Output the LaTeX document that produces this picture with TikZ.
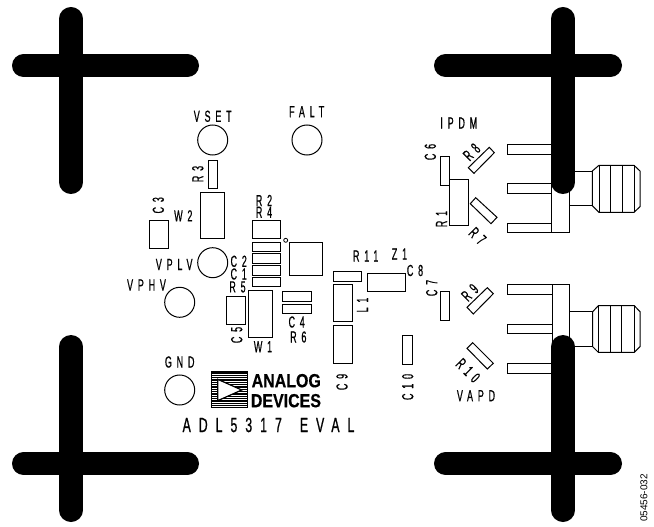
\documentclass[tikz,border=0pt]{standalone}
\usepackage{fontspec}
\newfontfamily\cadfont[FakeStretch=0.56,LetterSpace=30,FakeBold=0.6]{Liberation Sans}
\newfontfamily\cadwide[FakeStretch=0.6,LetterSpace=39,FakeBold=0.8]{Liberation Sans}
\newfontfamily\logofont[FakeStretch=0.84,FakeBold=0.5]{Liberation Sans Bold}
\setsansfont{Liberation Sans}
\tikzset{
  lab/.style={font=\cadfont\fontsize{16}{16}\selectfont,inner sep=0pt,text=black},
  part/.style={draw=black,line width=1pt,fill=white},
  pad/.style={circle,draw=black,line width=1pt,fill=white,minimum size=30pt,inner sep=0pt},
  bar/.style={line width=23.4pt,line cap=round,draw=black},
  wire/.style={draw=black,line width=1pt},
  logotxt/.style={font=\logofont\fontsize{19}{19}\selectfont,inner sep=0pt,anchor=west}
}
\begin{document}
\begin{tikzpicture}[x=1pt,y=-1pt]
\useasboundingbox (0,0) rectangle (654,527);
% pads
\node[pad] (vset) at (212.7,140) {};
\node[pad] (falt) at (307,140) {};
\node[pad] (vplv) at (212.7,262.7) {};
\node[pad] (vphv) at (179.7,302.3) {};
\node[pad] (gnd) at (179.7,390) {};
\node[draw=black,circle,line width=.8pt,minimum size=4pt,inner sep=0pt] (pin1) at (285.7,240.3) {};
% parts
\draw[part] (208.3,160) rectangle (217.7,188.7);
\draw[part] (200.3,192) rectangle (224.3,238.7);
\draw[part] (149.3,220) rectangle (168.3,248.3);
\draw[part] (252.7,220) rectangle (280.7,238.7);
\draw[part] (252.7,242.3) rectangle (280.7,251.7);
\draw[part] (252.7,253.3) rectangle (280.7,263.3);
\draw[part] (252.7,265.3) rectangle (280.7,275);
\draw[part] (252.7,277.3) rectangle (280.7,286.7);
\draw[part] (289,242.3) rectangle (322,275.7);
\draw[part] (226.7,296) rectangle (245.7,324);
\draw[part] (248.7,290.7) rectangle (272.3,337.3);
\draw[part] (282.7,291.7) rectangle (311.3,301);
\draw[part] (282.7,304.3) rectangle (311.3,313.7);
\draw[part] (333.7,271.7) rectangle (361.7,281.3);
\draw[part] (333.7,284.3) rectangle (352.3,321.7);
\draw[part] (333.7,325.3) rectangle (352.3,363);
\draw[part] (367.7,273) rectangle (405.3,291.7);
\draw[part] (402.3,335.7) rectangle (412.3,364);
\draw[part] (440,156.7) rectangle (449.3,185.3);
\draw[part] (449.7,179.7) rectangle (468.3,225.7);
\draw[part] (440.3,291.7) rectangle (449.7,320);
\draw[part] (489.3,147.3) -- (494.3,152.7) -- (474,173.3) -- (468.3,167.7) -- cycle;
\draw[part] (475.7,197.7) -- (497,217.3) -- (491,223.7) -- (470.3,203.7) -- cycle;
\draw[part] (487.3,287.7) -- (493.3,293.7) -- (473.3,314) -- (467,307.3) -- cycle;
\draw[part] (472.7,342.7) -- (493.3,363.3) -- (487.3,369) -- (467,348.3) -- cycle;
% upper SMA connector
\draw[part] (551.7,135) rectangle (569.3,232.3);
\draw[part] (507.7,144.7) rectangle (551.7,154.3);
\draw[part] (507.7,183.7) rectangle (551.7,193.7);
\draw[part] (507.7,223) rectangle (551.7,232.3);
\draw[wire] (569.3,171) -- (592.3,171) -- (592.3,205.7) -- (569.3,205.7);
\draw[part] (592.3,171) -- (599,165.3) -- (634,165.3) -- (640,171) -- (640,206.7) -- (634,212.3) -- (599,212.3) -- (592.3,205.7) -- cycle;
\foreach \x in {599,610.7,622,634} \draw[wire] (\x,165.3) -- (\x,212.3);
% lower SMA connector
\draw[part] (552,284.7) rectangle (569.3,400);
\draw[part] (507.7,284.7) rectangle (552,294.3);
\draw[part] (507.7,324) rectangle (552,333.7);
\draw[part] (507.7,363.3) rectangle (552,373);
\draw[wire] (569.3,311.7) -- (592.7,311.7) -- (592.7,346.7) -- (569.3,346.7);
\draw[part] (592.7,311.7) -- (598.3,305.7) -- (634.3,305.7) -- (640,311.7) -- (640,346.7) -- (634.3,352.3) -- (598.3,352.3) -- (592.7,346.7) -- cycle;
\foreach \x in {598.3,610.3,621.7,634.3} \draw[wire] (\x,305.7) -- (\x,352.3);
% mounting crosses
\draw[bar] (71,18.7) -- (71,182.3);
\draw[bar] (23.7,65.7) -- (187.3,65.7);
\draw[bar] (71,346.7) -- (71,510.3);
\draw[bar] (23.7,463.7) -- (187.3,463.7);
\draw[bar] (563,18.7) -- (563,182.3);
\draw[bar] (445.7,65.5) -- (610.3,65.5);
\draw[bar] (563,346.7) -- (563,510.3);
\draw[bar] (445.7,463.7) -- (610.3,463.7);
% logo
\draw[line width=1pt] (211,371.7) rectangle (247.3,407.7);
\foreach \i in {0,...,20} \draw[line width=.9pt] (211,372+1.75*\i) -- (247.3,372+1.75*\i);
\draw[fill=white,line width=1.2pt] (217.7,379.3) -- (241.7,390) -- (217.7,400.7) -- cycle;
\node[logotxt] (analog) at (251.5,380.7) {ANALOG};
\node[logotxt] (devices) at (250.7,400.7) {DEVICES};
% labels
\node[lab] (lvset) at (212.7,116.3) {VSET};
\node[lab] (lfalt) at (306.7,111.7) {FALT};
\node[lab,rotate=90] (lr3) at (197.8,174) {R3};
\node[lab,rotate=90] (lc3) at (158.3,205.3) {C3};
\node[lab] (lw2) at (183.3,215.8) {W2};
\node[lab] (lr2) at (264,200.5) {R2};
\node[lab] (lr4) at (264,212.3) {R4};
\node[lab] (lc2) at (238.7,261.3) {C2};
\node[lab] (lc1) at (238.7,274) {C1};
\node[lab] (lr5) at (237.5,287) {R5};
\node[lab] (lvplv) at (174.2,264.5) {VPLV};
\node[lab] (lvphv) at (146.5,285) {VPHV};
\node[lab,rotate=90] (lc5) at (236.7,335) {C5};
\node[lab] (lw1) at (263,346.7) {W1};
\node[lab] (lc4) at (296.7,322) {C4};
\node[lab] (lr6) at (298.3,337) {R6};
\node[lab] (lr11) at (365.7,256) {R11};
\node[lab] (lz1) at (399.5,254) {Z1};
\node[lab] (lc8) at (415,270.5) {C8};
\node[lab,rotate=90] (ll1) at (362.5,305) {L1};
\node[lab,rotate=90] (lc9) at (342,382) {C9};
\node[lab,rotate=90] (lc10) at (407.7,387) {C10};
\node[lab] (lgnd) at (179.7,362) {GND};
\node[inner sep=0pt,font=\cadwide\fontsize{20.5}{20.5}\selectfont] (ltitle) at (268.5,425) {ADL5317\hspace{18pt}EVAL};
\node[lab] (lipdm) at (458.8,123) {IPDM};
\node[lab,rotate=90] (lc6) at (430.3,152) {C6};
\node[lab,rotate=45] (lr8) at (471.7,152) {R8};
\node[lab,rotate=90] (lr1) at (441.5,219) {R1};
\node[lab,rotate=-45] (lr7) at (477.5,236) {R7};
\node[lab,rotate=90] (lc7) at (431.7,288) {C7};
\node[lab,rotate=45] (lr9) at (470,292.5) {R9};
\node[lab,rotate=-45] (lr10) at (468,370.5) {R10};
\node[lab] (lvapd) at (476,395.7) {VAPD};
\node[inner sep=0pt,rotate=90,font=\sffamily\fontsize{10}{10}\selectfont] (lid) at (644,498) {05456-032};
\end{tikzpicture}
\end{document}
